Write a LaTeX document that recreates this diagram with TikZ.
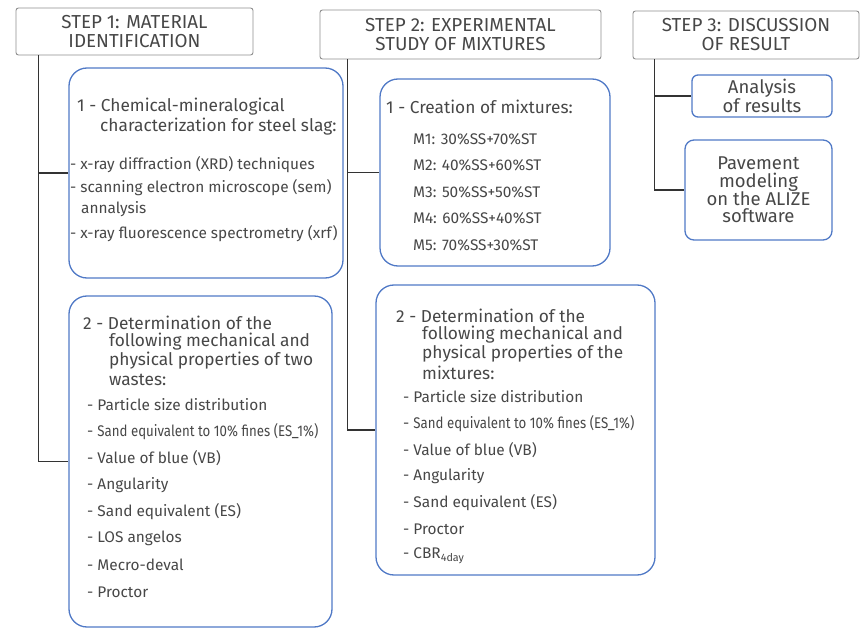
\documentclass[tikz,border=0pt]{standalone}
\usepackage{fontspec}
\setmainfont{Fira Sans}
\usepackage{graphicx}
\definecolor{txtgray}{HTML}{474747}
\definecolor{panelblue}{HTML}{5079C6}
\definecolor{hdrgray}{HTML}{8E8E8E}
\definecolor{linkgray}{HTML}{333333}
\begin{document}
\begin{tikzpicture}[
      x=1pt, y=-1pt,
      hdr/.style={draw=hdrgray, rounded corners=2.5pt, line width=0.9pt,
                  align=center, inner sep=0pt, text=txtgray,
                  font=\fontsize{18.8}{19}\selectfont},
      panel/.style={draw=panelblue, rounded corners=18pt, line width=1.3pt,
                    inner sep=0pt},
      head/.style={anchor=west, inner sep=0pt, text=txtgray,
                   font=\fontsize{17.3}{19}\selectfont},
      item/.style={anchor=west, inner sep=0pt, text=txtgray,
                   font=\fontsize{15.4}{17}\selectfont},
      link/.style={draw=linkgray, line width=1.4pt}
    ]
      \useasboundingbox (0,0) rectangle (860,628);
      % step headers
      \node[hdr, minimum width=237pt, minimum height=47pt] (h1) at (134.5,31.5)
        {STEP 1: MATERIAL\\IDENTIFICATION};
      \node[hdr, minimum width=281pt, minimum height=49pt] (h2) at (460.5,34.5)
        {STEP 2: EXPERIMENTAL\\STUDY OF MIXTURES};
      \node[hdr, minimum width=226pt, minimum height=48pt] (h3) at (746,35)
        {STEP 3: DISCUSSION\\OF RESULT};
      % blue panels
      \node[panel, minimum width=274pt, minimum height=210pt] (s1a) at (206,173) {};
      \node[panel, minimum width=263pt, minimum height=331pt] (s1b) at (200.5,461.5) {};
      \node[panel, minimum width=230pt, minimum height=187pt] (s2a) at (495,172.5) {};
      \node[panel, minimum width=279pt, minimum height=290pt] (s2b) at (515.5,430) {};
      \node[panel, rounded corners=6pt, minimum width=140pt, minimum height=42pt,
            align=center, text=txtgray, font=\fontsize{18.5}{17.8}\selectfont]
        (s3a) at (762,96) {Analysis\\of results};
      \node[panel, rounded corners=9pt, minimum width=147pt, minimum height=100pt,
            align=center, text=txtgray, font=\fontsize{18.5}{17.8}\selectfont]
        (s3b) at (758.5,190) {Pavement\\modeling\\on the ALIZE\\software};
      % connectors
      \draw[link] ([xshift=23pt]h1.south west) |- (s1a.west);
      \draw[link] ([xshift=23pt]h1.south west) |- (s1b.west);
      \draw[link] ([xshift=28pt]h2.south west) |- (s2a.west);
      \draw[link] ([xshift=28pt]h2.south west) |- (s2b.west);
      \draw[link] ([xshift=22pt]h3.south west) |- (s3a.west);
      \draw[link] ([xshift=22pt]h3.south west) |- (s3b.west);
      % step 1, panel 1
      \node[head] (t1a) at (77,107) {1 - Chemical-mineralogical};
      \node[head] (t1b) at (100,127) {characterization for steel slag:};
      \node[item] (c1) at (70,165) {- x-ray diffraction (XRD) techniques};
      \node[item] (c2) at (70,188) {- scanning electron microscope (sem)};
      \node[item] (c3) at (81,209) {annalysis};
      \node[item] (c4) at (70,234) {- x-ray fluorescence spectrometry (xrf)};
      % step 1, panel 2
      \node[head] (d1) at (83,323) {2 - Determination of the};
      \node[head] (d2) at (109,342) {following mechanical and};
      \node[head] (d3) at (109,361) {physical properties of two};
      \node[head] (d4) at (109,380) {wastes:};
      \foreach \txt [count=\k] in {- Particle size distribution,
          - \scalebox{0.86}[1]{Sand equivalent to 10\% fines (ES\_1\%)},
          - Value of blue (VB), - Angularity, - Sand equivalent (ES),
          - LOS angelos, - Mecro-deval, - Proctor} {
        \pgfmathsetmacro{\yy}{405+(\k-1)*26.7}
        \node[item] (p\k) at (87,\yy) {\txt};
      }
      % step 2, panel 1
      \node[head] (t2) at (386,107) {1 - Creation of mixtures:};
      \foreach \txt [count=\k] in {M1: 30\%SS+70\%ST, M2: 40\%SS+60\%ST,
          M3: 50\%SS+50\%ST, M4: 60\%SS+40\%ST, M5: 70\%SS+30\%ST} {
        \pgfmathsetmacro{\yy}{139+(\k-1)*26.5}
        \node[item] (m\k) at (413,\yy) {\txt};
      }
      % step 2, panel 2
      \node[head] (e1) at (396,316) {2 - Determination of the};
      \node[head] (e2) at (422,335) {following mechanical and};
      \node[head] (e3) at (422,354) {physical properties of the};
      \node[head] (e4) at (422,373) {mixtures:};
      \foreach \txt [count=\k] in {- Particle size distribution,
          - \scalebox{0.86}[1]{Sand equivalent to 10\% fines (ES\_1\%)},
          - Value of blue (VB), - Angularity, - Sand equivalent (ES),
          - Proctor, - CBR\textsubscript{4day}} {
        \pgfmathsetmacro{\yy}{397+(\k-1)*26.5}
        \node[item] (q\k) at (403,\yy) {\txt};
      }
    \end{tikzpicture}
\end{document}
